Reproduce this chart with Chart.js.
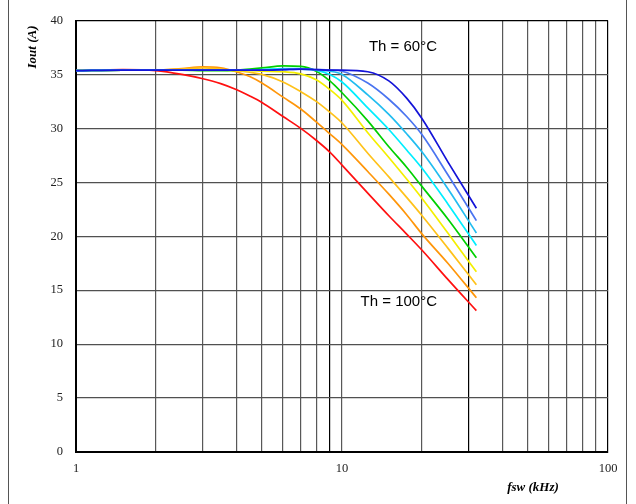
<!DOCTYPE html>
<html>
<head>
<meta charset="utf-8">
<script src="https://cdn.jsdelivr.net/npm/chart.js@4.4.1/dist/chart.umd.min.js"></script>
<style>
  html, body { margin: 0; padding: 0; background: #fff; }
  #wrap { width: 636px; height: 504px; }
</style>
</head>
<body>
<div id="wrap"><canvas id="chart" width="636" height="504"></canvas></div>
<script>
// switching frequency samples (kHz)
const freqs = [1, 1.5, 2, 2.5, 3, 3.5, 4, 4.5, 5, 6, 7, 8, 9, 10, 12.5, 15, 17.5, 20, 25, 32];

// output current (A) per heatsink temperature
const th60  = [35.35, 35.4, 35.4, 35.4, 35.4, 35.4, 35.4, 35.4, 35.4, 35.45, 35.5, 35.45, 35.4, 35.4, 35.25, 34.4, 32.8, 30.9, 26.9, 22.6];
const th65  = [35.35, 35.4, 35.4, 35.4, 35.4, 35.4, 35.4, 35.4, 35.4, 35.45, 35.5, 35.45, 35.4, 35.3, 34.2, 32.7, 31.1, 29.4, 25.7, 21.45];
const th70  = [35.35, 35.4, 35.4, 35.4, 35.4, 35.4, 35.4, 35.4, 35.4, 35.5, 35.5, 35.4, 35.3, 35.0, 33.1, 31.3, 29.5, 27.8, 24.4, 20.3];
const th75  = [35.35, 35.4, 35.4, 35.4, 35.4, 35.4, 35.4, 35.4, 35.45, 35.55, 35.55, 35.4, 35.0, 34.3, 31.9, 29.9, 28.0, 26.3, 23.0, 19.15];
const th80  = [35.35, 35.4, 35.4, 35.4, 35.35, 35.35, 35.4, 35.5, 35.6, 35.8, 35.75, 35.3, 34.4, 33.3, 30.7, 28.3, 26.4, 24.6, 21.6, 18.0];
const th85  = [35.35, 35.4, 35.4, 35.4, 35.4, 35.4, 35.35, 35.35, 35.3, 35.25, 35.05, 34.5, 33.6, 32.6, 29.6, 27.3, 25.3, 23.5, 20.3, 16.7];
const th90  = [35.35, 35.4, 35.4, 35.5, 35.6, 35.5, 35.35, 35.2, 35.0, 34.3, 33.4, 32.5, 31.5, 30.5, 27.7, 25.5, 23.6, 21.9, 18.9, 15.5];
const th95  = [35.35, 35.4, 35.4, 35.55, 35.7, 35.6, 35.25, 34.8, 34.2, 32.9, 31.8, 30.6, 29.5, 28.5, 26.0, 23.9, 22.0, 20.2, 17.5, 14.3];
const th100 = [35.35, 35.45, 35.35, 35.0, 34.6, 34.15, 33.6, 33.0, 32.4, 31.1, 30.0, 28.9, 27.8, 26.6, 24.0, 21.9, 20.2, 18.7, 16.0, 13.1];

const seriesNames  = ["Th = 60°C", "Th = 65°C", "Th = 70°C", "Th = 75°C", "Th = 80°C", "Th = 85°C", "Th = 90°C", "Th = 95°C", "Th = 100°C"];
const seriesValues = [th60, th65, th70, th75, th80, th85, th90, th95, th100];
const seriesColors = ["#1414d8", "#4a74f0", "#22bdf0", "#00eeff", "#00d000", "#f4ef00", "#ffc21a", "#ff960a", "#ff1010"];

// grid lines and labels
const gridFreqs  = [1, 2, 3, 4, 5, 6, 7, 8, 9, 10, 20, 30, 40, 50, 60, 70, 80, 90, 100];
const labelFreqs = [1, 10, 100];
const darkFreqs  = [1, 9, 30, 100];
const yTicks     = [0, 5, 10, 15, 20, 25, 30, 35, 40];

const serif = "'Liberation Serif', 'Times New Roman', serif";
const sans  = "'Liberation Sans', Arial, sans-serif";

const decorations = {
  id: "decorations",
  beforeDraw(chart) {
    const c = chart.ctx;
    c.save();
    c.fillStyle = "#fff";
    c.fillRect(0, 0, chart.width, chart.height);
    // outer frame sides
    c.strokeStyle = "#555";
    c.lineWidth = 1;
    c.beginPath();
    c.moveTo(8.5, 0); c.lineTo(8.5, chart.height);
    c.moveTo(626.5, 0); c.lineTo(626.5, chart.height);
    c.stroke();
    c.restore();
  },
  afterDraw(chart) {
    const c = chart.ctx;
    c.save();
    c.fillStyle = "#000";
    c.font = "15px " + sans;
    c.textAlign = "right";
    c.textBaseline = "middle";
    c.fillText(seriesNames[0], 437, 47);
    c.fillText(seriesNames[seriesNames.length - 1], 437, 302);
    // axis titles
    c.font = "bold italic 13px " + serif;
    c.textAlign = "center";
    c.fillText("fsw (kHz)", 533, 488);
    c.translate(33, 47);
    c.rotate(-Math.PI / 2);
    c.fillText("Iout (A)", 0, 0);
    c.restore();
  }
};

new Chart(document.getElementById("chart").getContext("2d"), {
  type: "line",
  data: {
    datasets: seriesValues.map((vals, i) => ({
      label: seriesNames[i],
      data: freqs.map((f, j) => ({ x: f, y: vals[j] })),
      borderColor: seriesColors[i],
      borderWidth: 1.7,
      pointRadius: 0,
      fill: false,
      cubicInterpolationMode: "monotone"
    }))
  },
  options: {
    responsive: false,
    animation: false,
    layout: { padding: { left: 0, top: 18, right: 28, bottom: 0 } },
    plugins: {
      legend: { display: false },
      tooltip: { enabled: false }
    },
    scales: {
      x: {
        type: "logarithmic",
        min: 1,
        max: 100,
        afterBuildTicks: scale => { scale.ticks = gridFreqs.map(v => ({ value: v })); },
        afterFit: scale => { scale.height = 52; },
        border: { color: "#000", width: 2 },
        grid: {
          drawTicks: false,
          color: ctx => (ctx.tick && darkFreqs.includes(ctx.tick.value)) ? "#000" : "#585858",
          lineWidth: 1.2
        },
        ticks: {
          autoSkip: false,
          maxRotation: 0,
          padding: 9,
          color: "#222",
          font: { family: serif, size: 12.5 },
          callback: v => labelFreqs.includes(v) ? String(v) : ""
        }
      },
      y: {
        min: 0,
        max: 40,
        afterBuildTicks: scale => { scale.ticks = yTicks.map(v => ({ value: v })); },
        afterFit: scale => { scale.width = 76; },
        border: { color: "#000", width: 2 },
        grid: {
          drawTicks: false,
          color: ctx => (ctx.tick && ctx.tick.value === 40) ? "#000" : "#505050",
          lineWidth: 1.2
        },
        ticks: {
          padding: 13,
          color: "#222",
          font: { family: serif, size: 12.5 }
        }
      }
    }
  },
  plugins: [decorations]
});
</script>
</body>
</html>
